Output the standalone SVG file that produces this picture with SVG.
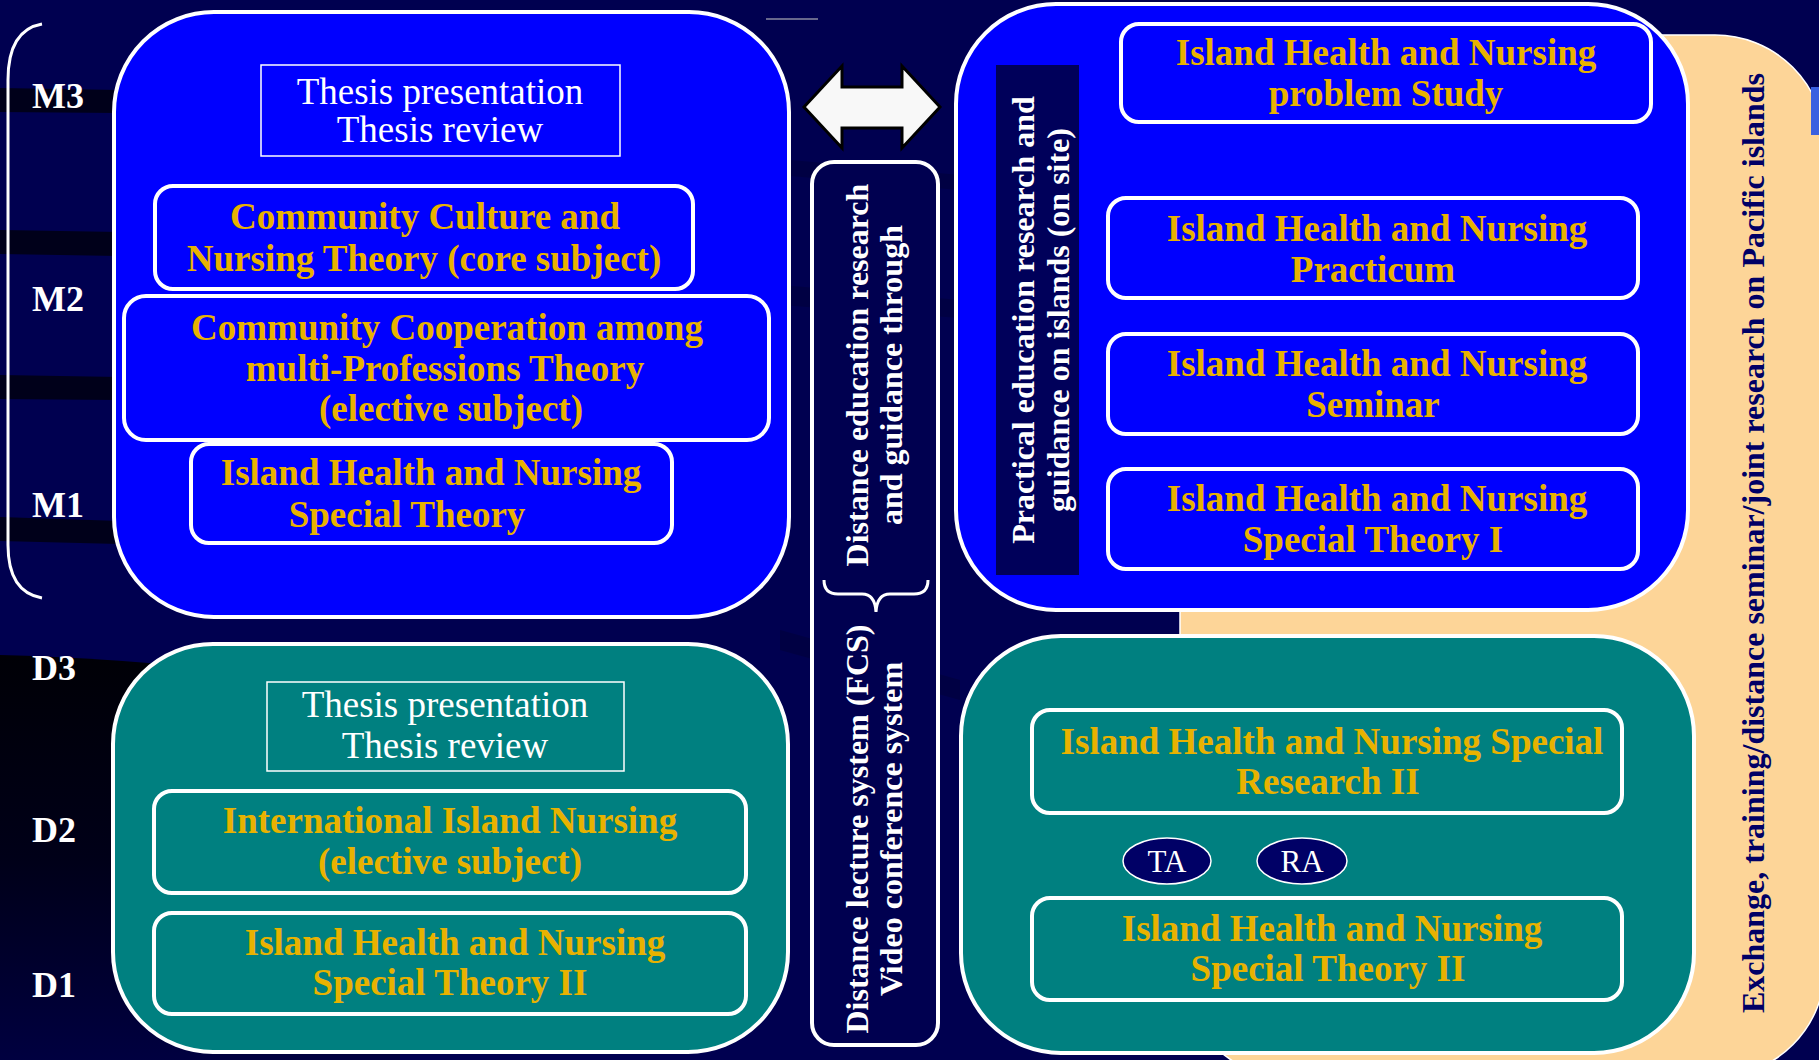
<svg xmlns="http://www.w3.org/2000/svg" width="1819" height="1060" viewBox="0 0 1819 1060">
<defs>
<linearGradient id="darkfade" x1="0" y1="0" x2="0" y2="1">
<stop offset="0" stop-color="#000006"/>
<stop offset="0.5" stop-color="#000018"/>
<stop offset="1" stop-color="#000040"/>
</linearGradient>
<style>
.lbl{font-family:"Liberation Serif","Times New Roman",serif;font-weight:bold;font-size:36px;fill:#ffffff}
.gold{font-family:"Liberation Serif","Times New Roman",serif;font-weight:bold;font-size:37px;fill:#E8B200;text-anchor:middle}
.reg{font-family:"Liberation Serif","Times New Roman",serif;font-size:37px;fill:#ffffff;text-anchor:middle}
.vt{font-family:"Liberation Serif","Times New Roman",serif;font-weight:bold;font-size:32px;fill:#ffffff;text-anchor:middle}
.vtd{font-family:"Liberation Serif","Times New Roman",serif;font-weight:bold;font-size:32px;fill:#000066;text-anchor:middle}
.big{stroke:#ffffff;stroke-width:4}
.inner{stroke:#ffffff;stroke-width:4}
.blue{fill:#0000FF}
.teal{fill:#008080}
.thin{fill:none;stroke:#ffffff;stroke-width:1.5}
</style>
</defs>
<!-- background -->
<rect x="0" y="0" width="1819" height="1060" fill="#000050"/>
<path d="M0,655 Q150,658 400,690 L400,1060 L0,1060 Z" fill="url(#darkfade)"/>
<g fill="#00001a">
<path d="M0,88 L120,90 L120,113 L0,112 Z"/>
<path d="M0,230 L120,232 L120,256 L0,254 Z"/>
<path d="M0,375 L120,377 L120,400 L0,399 Z"/>
<path d="M0,517 L120,521 L120,544 L0,541 Z"/>
</g>
<g fill="#000040" opacity="0.8">
<path d="M780,285 L960,300 L960,318 L780,305 Z"/>
<path d="M780,630 L960,680 L960,700 L780,650 Z"/>
<path d="M790,160 L960,175 L960,190 L790,176 Z"/>
</g>
<line x1="766" y1="19" x2="818" y2="19" stroke="#8a8aa0" stroke-width="1.5"/>

<!-- peach background panel -->
<g id="exchange-panel">
<rect x="1180" y="35" width="645" height="1042" rx="110" fill="#FDD598" stroke="#ffffff" stroke-width="1.5"/>
<text class="vtd" x="1764" y="543" transform="rotate(-90 1764 543)">Exchange, training/distance seminar/joint research on Pacific islands</text>
</g>
<rect x="1811" y="87" width="8" height="48" fill="#3a60e0"/>

<!-- left bracket and level labels -->
<g id="levels">
<path d="M42,24 Q8,30 8,80 L8,545 Q8,592 42,598" fill="none" stroke="#ffffff" stroke-width="3"/>
<text class="lbl" x="32" y="108">M3</text>
<text class="lbl" x="32" y="311">M2</text>
<text class="lbl" x="32" y="517">M1</text>
<text class="lbl" x="32" y="680">D3</text>
<text class="lbl" x="32" y="842">D2</text>
<text class="lbl" x="32" y="997">D1</text>
</g>

<!-- master course (top-left) -->
<g id="master-course">
<rect x="114" y="12" width="675" height="605" rx="100" class="blue big"/>
<g id="m-thesis">
<rect x="261" y="65" width="359" height="91" class="thin"/>
<text class="reg" x="440" y="104">Thesis presentation</text>
<text class="reg" x="440" y="142">Thesis review</text>
</g>
<g id="m-core">
<rect x="155" y="186" width="538" height="103" rx="18" class="blue inner"/>
<text class="gold" x="425" y="229">Community Culture and</text>
<text class="gold" x="424" y="271">Nursing Theory (core subject)</text>
</g>
<g id="m-coop">
<rect x="124" y="296" width="645" height="144" rx="22" class="blue inner"/>
<text class="gold" x="447" y="340">Community Cooperation among</text>
<text class="gold" x="445" y="381">multi-Professions Theory</text>
<text class="gold" x="451" y="421">(elective subject)</text>
</g>
<g id="m-special">
<rect x="191" y="444" width="481" height="99" rx="18" class="blue inner"/>
<text class="gold" x="431" y="485">Island Health and Nursing</text>
<text class="gold" x="407" y="527">Special Theory</text>
</g>
</g>

<!-- doctoral course (bottom-left) -->
<g id="doctoral-course">
<rect x="113" y="644" width="675" height="408" rx="100" class="teal big"/>
<g id="d-thesis">
<rect x="267" y="682" width="357" height="89" class="thin"/>
<text class="reg" x="445" y="717">Thesis presentation</text>
<text class="reg" x="445" y="758">Thesis review</text>
</g>
<g id="d-international">
<rect x="154" y="791" width="592" height="102" rx="18" class="teal inner"/>
<text class="gold" x="450" y="833">International Island Nursing</text>
<text class="gold" x="450" y="874">(elective subject)</text>
</g>
<g id="d-special">
<rect x="154" y="913" width="592" height="101" rx="18" class="teal inner"/>
<text class="gold" x="455" y="955">Island Health and Nursing</text>
<text class="gold" x="450" y="995">Special Theory II</text>
</g>
</g>

<!-- distance education column -->
<g id="distance-education">
<rect x="812" y="162" width="126" height="883" rx="22" fill="#000050" stroke="#ffffff" stroke-width="4"/>
<text class="vt" x="868" y="375" transform="rotate(-90 868 375)">Distance education research</text>
<text class="vt" x="902" y="375" transform="rotate(-90 902 375)">and guidance through</text>
<path d="M824,580 Q824,594 838,594 L862,594 Q875,594 876,612 Q877,594 890,594 L914,594 Q928,594 928,580" fill="none" stroke="#ffffff" stroke-width="3"/>
<text class="vt" x="868" y="829" transform="rotate(-90 868 829)">Distance lecture system (FCS)</text>
<text class="vt" x="902" y="829" transform="rotate(-90 902 829)">Video conference system</text>
</g>

<!-- on-site practical (top-right) -->
<g id="onsite-course">
<rect x="956" y="4" width="732" height="606" rx="100" class="blue big"/>
<g id="practical-label">
<rect x="996" y="65" width="83" height="510" fill="#00005A"/>
<text class="vt" x="1034" y="320" transform="rotate(-90 1034 320)">Practical education research and</text>
<text class="vt" x="1069" y="320" transform="rotate(-90 1069 320)">guidance on islands (on site)</text>
</g>
<g id="r-problem">
<rect x="1121" y="24" width="530" height="98" rx="18" class="blue inner"/>
<text class="gold" x="1386" y="65">Island Health and Nursing</text>
<text class="gold" x="1386" y="106">problem Study</text>
</g>
<g id="r-practicum">
<rect x="1108" y="198" width="530" height="100" rx="18" class="blue inner"/>
<text class="gold" x="1377" y="241">Island Health and Nursing</text>
<text class="gold" x="1373" y="282">Practicum</text>
</g>
<g id="r-seminar">
<rect x="1108" y="334" width="530" height="100" rx="18" class="blue inner"/>
<text class="gold" x="1377" y="376">Island Health and Nursing</text>
<text class="gold" x="1373" y="417">Seminar</text>
</g>
<g id="r-special1">
<rect x="1108" y="469" width="530" height="100" rx="18" class="blue inner"/>
<text class="gold" x="1377" y="511">Island Health and Nursing</text>
<text class="gold" x="1373" y="552">Special Theory I</text>
</g>
</g>

<!-- research course (bottom-right) -->
<g id="research-course">
<rect x="961" y="636" width="733" height="417" rx="100" class="teal big"/>
<g id="r-research2">
<rect x="1032" y="710" width="590" height="103" rx="18" class="teal inner"/>
<text class="gold" x="1332" y="754">Island Health and Nursing Special</text>
<text class="gold" x="1328" y="794">Research II</text>
</g>
<g id="ta">
<ellipse cx="1167" cy="861" rx="44" ry="23" fill="#000066" stroke="#ffffff" stroke-width="1.5"/>
<text class="reg" x="1167" y="872" style="font-size:31px">TA</text>
</g>
<g id="ra">
<ellipse cx="1302" cy="861" rx="45" ry="23" fill="#000066" stroke="#ffffff" stroke-width="1.5"/>
<text class="reg" x="1302" y="872" style="font-size:31px">RA</text>
</g>
<g id="r-special2">
<rect x="1032" y="898" width="590" height="102" rx="18" class="teal inner"/>
<text class="gold" x="1332" y="941">Island Health and Nursing</text>
<text class="gold" x="1328" y="981">Special Theory II</text>
</g>
</g>

<!-- connectors -->
<g id="connectors">
<polygon points="804,107 842,66 842,87 902,87 902,66 940,107 902,148 902,128 842,128 842,148" fill="#F8F8F8" stroke="#000000" stroke-width="3" stroke-linejoin="miter"/>
</g>
</svg>
